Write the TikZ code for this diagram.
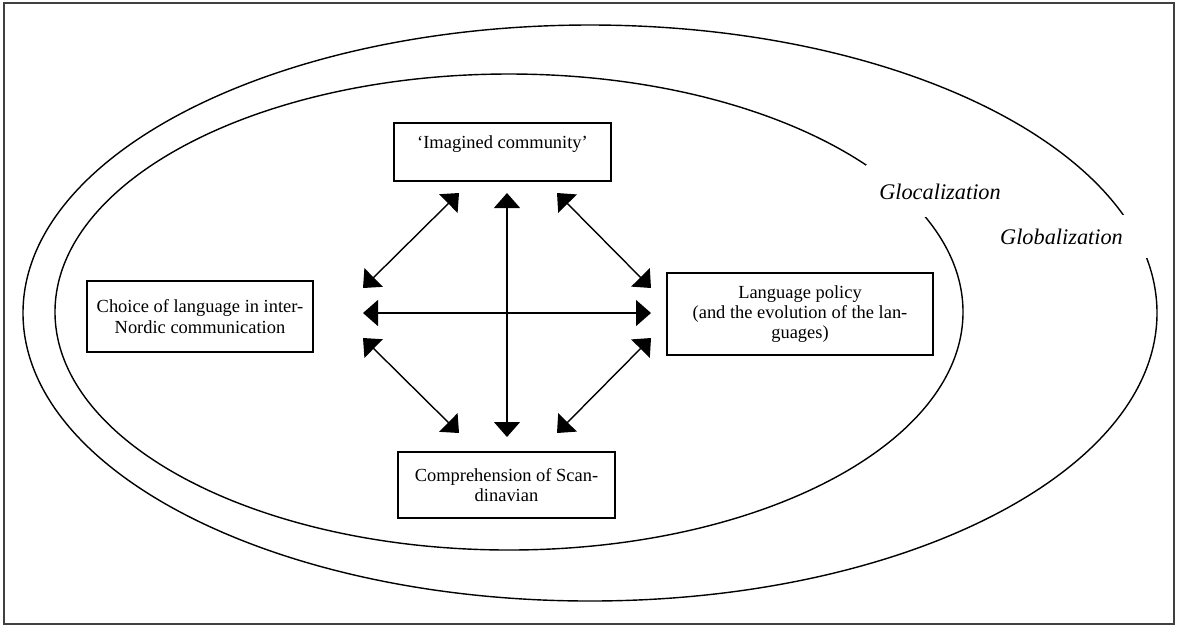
\documentclass[tikz,border=0pt]{standalone}
\usepackage{fontspec}
\setmainfont{Liberation Serif}
\usetikzlibrary{arrows.meta,positioning}

\tikzset{
  boxnode/.style={draw, line width=0.8pt, inner sep=0pt, font=\fontsize{10.5}{11.5}\selectfont},
  ringlabel/.style={fill=white, anchor=base, font=\fontsize{12.7}{14}\selectfont\itshape},
  biarrow/.style={line width=0.8pt, {Triangle[length=0.3cm,width=0.52cm]}-{Triangle[length=0.3cm,width=0.52cm]}}
}

\begin{document}
\begin{tikzpicture}[x=0.02cm, y=-0.02cm]
    \useasboundingbox (0,0) rectangle (1179,627);
    % Frame
    \draw[line width=0.9pt, black!75] (4,3) rectangle (1174,624);

    % Globalization and glocalization rings
    \draw[line width=0.8pt] (590,313) ellipse [x radius=567, y radius=288];
    \draw[line width=0.8pt] (509,312) ellipse [x radius=454, y radius=238];
    \node[ringlabel, inner xsep=0.26cm, minimum height=1.04cm] (gloc) at (940,199) {Glocalization};
    \node[ringlabel, inner xsep=0.55cm, minimum height=0.86cm] (glob) at (1061.5,244) {Globalization};

    % Four boxes
    \node[boxnode, minimum width=4.34cm, minimum height=1.16cm, text height=0.3cm, text depth=0.46cm] (img) at (502.5,152) {‘Imagined community’};
    \node[boxnode, align=center, minimum width=4.52cm, minimum height=1.42cm] (choice) at (200,316.5) {Choice of language in inter-\\Nordic communication};
    \node[boxnode, align=center, minimum width=5.32cm, minimum height=1.64cm] (policy) at (800,314) {Language policy\\(and the evolution of the lan-\\guages)};
    \node[boxnode, align=center, minimum width=4.34cm, minimum height=1.32cm] (compr) at (506.5,485) {Comprehension of Scan-\\dinavian};

    % Arrow ends
    \coordinate (hl) at (363,313);
    \coordinate (hr) at (651,313);
    \coordinate (vt) at (507,193);
    \coordinate (vb) at (507,437);
    \coordinate (ula) at (363,288);
    \coordinate (ulb) at (459,193);
    \coordinate (ura) at (557,193);
    \coordinate (urb) at (651,288);
    \coordinate (lla) at (363,338);
    \coordinate (llb) at (459,433);
    \coordinate (lra) at (651,338);
    \coordinate (lrb) at (557,433);

    % Arrows
    \draw[biarrow] (hl) -- (hr);
    \draw[biarrow] (vt) -- (vb);
    \foreach \a/\b in {ula/ulb, ura/urb, lla/llb, lra/lrb} {
        \draw[biarrow] (\a) -- (\b);
    }
\end{tikzpicture}
\end{document}
